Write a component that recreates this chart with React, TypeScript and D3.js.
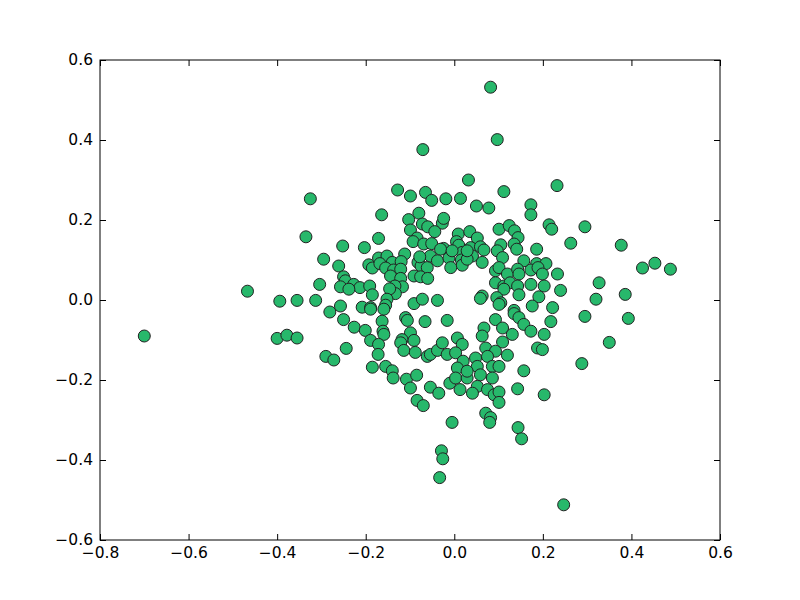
import React, { useEffect, useRef } from 'react';
import * as d3 from 'd3';

// values
const xValues = [
  0.082, 0.097, -0.071, 0.032, 0.232, -0.128, 0.112, -0.065, -0.099, -0.051,
  -0.019, 0.014, -0.325, 0.05, 0.078, 0.173, 0.173, -0.164, -0.08, -0.103,
  -0.072, -0.06, -0.027, -0.024, 0.214, 0.22, 0.295, 0.101, 0.124, 0.136,
  0.144, -0.099, -0.044, 0.009, 0.035, -0.335, -0.171, -0.084, -0.093, 0.005,
  0.052, -0.069, -0.051, -0.024, 0.01, 0.037, 0.059, 0.263, 0.105, 0.135,
  0.186, 0.141, 0.377, -0.252, -0.203, -0.031, 0.018, 0.067, 0.097, 0.109,
  0.041, -0.171, -0.152, -0.112, -0.295, -0.261, -0.193, -0.185, -0.168, -0.14,
  -0.12, -0.155, -0.137, -0.121, -0.144, -0.082, -0.075, -0.061, -0.054, -0.078,
  -0.038, -0.012, -0.005, 0.016, 0.018, -0.008, 0.029, 0.029, 0.063, 0.157,
  0.186, 0.207, 0.425, 0.453, 0.488, 0.233, 0.093, 0.101, 0.12, 0.143,
  0.146, 0.173, 0.189, 0.199, -0.091, -0.076, -0.06, -0.121, -0.117, -0.25,
  -0.246, -0.227, -0.213, -0.257, -0.191, -0.185, -0.134, -0.133, -0.146, -0.152,
  -0.155, -0.091, -0.072, -0.038, -0.257, -0.208, -0.189, -0.304, -0.238, -0.394,
  -0.355, -0.313, -0.281, -0.4, -0.378, -0.355, -0.29, -0.272, -0.7, -0.467,
  0.093, 0.112, 0.126, 0.143, 0.173, 0.203, 0.112, 0.146, 0.191, 0.063,
  0.059, 0.096, 0.105, 0.135, 0.176, 0.222, 0.24, 0.327, 0.32, 0.386,
  0.295, 0.393, 0.35, 0.288, -0.189, -0.159, -0.25, -0.226, -0.201, -0.163,
  -0.161, -0.159, -0.189, -0.171, -0.172, -0.244, -0.11, -0.106, -0.066, -0.016,
  -0.099, -0.118, -0.121, -0.091, -0.114, -0.088, -0.185, -0.155, -0.14, -0.138,
  -0.108, -0.085, -0.099, -0.084, -0.07, -0.005, -0.061, -0.054, -0.038, -0.027,
  -0.016, 0.007, 0.018, 0.003, 0.02, 0.007, -0.054, -0.035, -0.01, 0.013,
  0.003, 0.029, 0.101, 0.218, 0.135, 0.146, 0.093, 0.157, 0.173, 0.203,
  0.109, 0.131, 0.067, 0.063, 0.109, 0.188, 0.199, 0.071, 0.093, 0.075,
  0.12, 0.048, 0.052, 0.086, 0.101, 0.029, 0.059, 0.086, 0.157, 0.052,
  0.041, 0.075, 0.09, 0.101, 0.101, 0.143, 0.203, 0.071, 0.082, 0.08,
  0.144, 0.152, -0.029, -0.026, -0.033, 0.247,
];

const yValues = [
  0.532, 0.401, 0.376, 0.3, 0.286, 0.275, 0.271, 0.269, 0.26, 0.249,
  0.253, 0.254, 0.253, 0.235, 0.23, 0.238, 0.213, 0.213, 0.217, 0.201,
  0.19, 0.183, 0.192, 0.204, 0.188, 0.177, 0.183, 0.177, 0.186, 0.173,
  0.156, 0.175, 0.171, 0.165, 0.171, 0.158, 0.154, 0.155, 0.146, 0.146,
  0.155, 0.14, 0.141, 0.129, 0.137, 0.131, 0.133, 0.142, 0.138, 0.14,
  0.127, 0.127, 0.137, 0.135, 0.131, 0.127, 0.119, 0.125, 0.123, 0.106,
  0.11, 0.105, 0.11, 0.115, 0.102, 0.085, 0.088, 0.08, 0.091, 0.094,
  0.096, 0.08, 0.075, 0.077, 0.06, 0.094, 0.085, 0.081, 0.11, 0.108,
  0.098, 0.105, 0.123, 0.1, 0.087, 0.081, 0.102, 0.123, 0.094, 0.098,
  0.091, 0.091, 0.08, 0.092, 0.077, 0.065, 0.073, 0.081, 0.065, 0.077,
  0.065, 0.075, 0.081, 0.065, 0.06, 0.058, 0.054, 0.054, 0.033, 0.058,
  0.048, 0.039, 0.031, 0.033, 0.035, 0.013, 0.035, 0.016, 0.028, 0.002,
  -0.013, -0.009, 0.002, -0.001, -0.015, -0.018, -0.019, 0.039, 0.027, -0.003,
  -0.001, -0.001, -0.03, -0.096, -0.088, -0.095, -0.141, -0.15, -0.09, 0.022,
  0.043, 0.035, 0.043, 0.035, 0.039, 0.035, 0.027, 0.013, 0.008, 0.01,
  0.004, 0.006, -0.007, -0.026, -0.015, -0.019, 0.024, 0.043, 0.002, 0.014,
  -0.041, -0.046, -0.106, -0.159, -0.023, -0.023, -0.049, -0.068, -0.076, -0.053,
  -0.078, -0.086, -0.101, -0.111, -0.136, -0.121, -0.044, -0.051, -0.054, -0.051,
  -0.082, -0.099, -0.107, -0.101, -0.126, -0.131, -0.168, -0.166, -0.177, -0.195,
  -0.198, -0.188, -0.22, -0.251, -0.264, -0.306, -0.141, -0.136, -0.126, -0.107,
  -0.136, -0.095, -0.111, -0.132, -0.153, -0.17, -0.218, -0.233, -0.208, -0.224,
  -0.195, -0.195, -0.011, -0.054, -0.034, -0.044, -0.049, -0.061, -0.078, -0.086,
  -0.07, -0.086, -0.07, -0.09, -0.105, -0.12, -0.124, -0.12, -0.128, -0.141,
  -0.138, -0.145, -0.166, -0.166, -0.166, -0.178, -0.187, -0.195, -0.177, -0.216,
  -0.233, -0.224, -0.237, -0.23, -0.256, -0.222, -0.237, -0.283, -0.294, -0.306,
  -0.319, -0.347, -0.377, -0.397, -0.444, -0.512,
];

const xTicks = [-0.8, -0.6, -0.4, -0.2, 0.0, 0.2, 0.4, 0.6];
const yTicks = [-0.6, -0.4, -0.2, 0.0, 0.2, 0.4, 0.6];

const App = () => {
  const svgRef = useRef(null);

  useEffect(() => {
    const svg = d3.select(svgRef.current);
    svg.selectAll('*').remove();

    const width = 800,
      height = 600,
      margin = { top: 60, right: 80, bottom: 60, left: 100 };
    const chartWidth = width - margin.left - margin.right;
    const chartHeight = height - margin.top - margin.bottom;

    svg.attr('width', width).attr('height', height);

    const xScale = d3.scaleLinear().domain([-0.8, 0.6]).range([0, chartWidth]);
    const yScale = d3.scaleLinear().domain([-0.6, 0.6]).range([chartHeight, 0]);

    const fmt = (d) => d3.format('.1f')(d).replace('-', '\u2212');

    const chart = svg
      .append('g')
      .attr('transform', `translate(${margin.left},${margin.top})`);

    chart
      .append('defs')
      .append('clipPath')
      .attr('id', 'plot-clip')
      .append('rect')
      .attr('width', chartWidth)
      .attr('height', chartHeight);

    const points = xValues.map((x, i) => [x, yValues[i]]);

    chart
      .append('g')
      .attr('clip-path', 'url(#plot-clip)')
      .selectAll('circle')
      .data(points)
      .enter()
      .append('circle')
      .attr('cx', (d) => xScale(d[0]))
      .attr('cy', (d) => yScale(d[1]))
      .attr('r', 6)
      .attr('fill', '#27b86b')
      .attr('stroke', '#222')
      .attr('stroke-width', 1);

    const tickSize = 6;
    const axisStyle = (g) => {
      g.select('.domain').remove();
      g.selectAll('line').attr('stroke', '#000').attr('stroke-width', 1);
      g.selectAll('text')
        .attr('fill', '#000')
        .style('font-family', 'DejaVu Sans, sans-serif')
        .style('font-size', '15.5px');
    };

    // bottom and left with labels, ticks pointing inward
    chart
      .append('g')
      .attr('transform', `translate(0,${chartHeight})`)
      .call(d3.axisBottom(xScale).tickValues(xTicks).tickFormat(fmt).tickSizeInner(-tickSize).tickSizeOuter(0).tickPadding(7))
      .call(axisStyle);

    chart
      .append('g')
      .call(d3.axisLeft(yScale).tickValues(yTicks).tickFormat(fmt).tickSizeInner(-tickSize).tickSizeOuter(0).tickPadding(7))
      .call(axisStyle);

    chart
      .append('g')
      .call(d3.axisTop(xScale).tickValues(xTicks).tickFormat(() => '').tickSizeInner(-tickSize).tickSizeOuter(0))
      .call(axisStyle);

    chart
      .append('g')
      .attr('transform', `translate(${chartWidth},0)`)
      .call(d3.axisRight(yScale).tickValues(yTicks).tickFormat(() => '').tickSizeInner(-tickSize).tickSizeOuter(0))
      .call(axisStyle);

    chart
      .append('rect')
      .attr('width', chartWidth)
      .attr('height', chartHeight)
      .attr('fill', 'none')
      .attr('stroke', '#000')
      .attr('stroke-width', 1);
  }, []);

  return (
    <svg
      ref={svgRef}
      style={{ position: 'absolute', left: 0, top: 0, background: '#fff' }}
    />
  );
};

export default App;
